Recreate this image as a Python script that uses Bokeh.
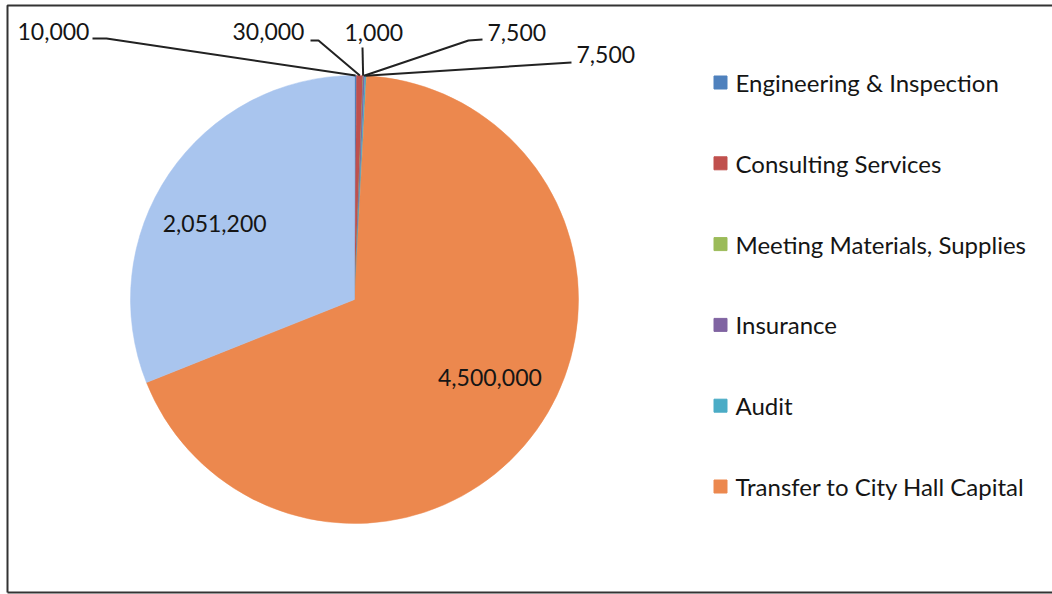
import math
from bokeh.plotting import figure
from bokeh.embed import file_html
from bokeh.resources import INLINE
from bokeh.core.properties import value
from bokeh.models import ColumnDataSource

# ---------------- data ----------------
categories = ["Engineering & Inspection", "Consulting Services", "Meeting Materials, Supplies",
              "Insurance", "Audit", "Transfer to City Hall Capital", "Other"]
values = [10000, 30000, 1000, 7500, 7500, 4500000, 2051200]
colors = ["#4F81BD", "#C0504D", "#9BBB59", "#8064A2", "#4BACC6", "#EC884E", "#A9C5EE"]
legend_count = 6  # only the first six categories appear in the legend

# ---------------- layout ----------------
W, H = 1052, 594
FONT = "Lato"
def Y(ypx):
    return H - ypx

cx, cy_px, R = 354, 299, 224
cy = Y(cy_px)

p = figure(width=W, height=H, x_range=(0, W), y_range=(0, H), min_border=0,
           toolbar_location=None, output_backend="svg")
p.axis.visible = False
p.xgrid.visible = False
p.ygrid.visible = False
p.outline_line_color = None
p.background_fill_color = "white"

# chart frame
p.line(x=[7, 7, W + 5], y=[Y(592), Y(5), Y(5)], line_color="#333333", line_width=2)
p.line(x=[7, W + 5], y=[Y(592), Y(592)], line_color="#333333", line_width=2)

# pie slices (clockwise from 12 o'clock)
total = float(sum(values))
starts, ends, mids = [], [], []
acc = 0.0
for v in values:
    a0 = math.pi / 2 - 2 * math.pi * acc / total
    acc += v
    a1 = math.pi / 2 - 2 * math.pi * acc / total
    starts.append(a0)
    ends.append(a1)
    mids.append((a0 + a1) / 2)

src = ColumnDataSource(dict(start=starts, end=ends, color=colors, cat=categories, val=values))
p.wedge(x=cx, y=cy, radius=R, start_angle="start", end_angle="end", direction="clock",
        fill_color="color", line_color="color", line_width=0.5, source=src)

labels = [f"{v:,}" for v in values]
LBL_SIZE = "23px"
TXT = "#151515"

# small-slice labels with leader lines (label anchor positions in px)
small_layout = {
    0: dict(tx=17, ty=31, path=[(92, 38), (106, 38)]),
    1: dict(tx=232, ty=31, path=[(310, 40), (318, 40)]),
    2: dict(tx=344, ty=32, path=[(362, 47)]),
    3: dict(tx=487, ty=32, path=[(482, 39), (468, 40)]),
    4: dict(tx=576, ty=54, path=[(571, 62)]),
}
for i, lay in small_layout.items():
    ex = cx + R * math.cos(mids[i])
    ey = cy + R * math.sin(mids[i])
    xs = [pt[0] for pt in lay["path"]] + [ex]
    ys = [Y(pt[1]) for pt in lay["path"]] + [ey]
    p.line(x=xs, y=ys, line_color="#222222", line_width=2)
    p.text(x=[lay["tx"]], y=[Y(lay["ty"])], text=[labels[i]], text_align="left",
           text_baseline="middle", text_font=value(FONT), text_font_size=LBL_SIZE,
           text_color=TXT)

# large-slice labels inside the pie (radius fraction, pixel nudge dx, dy-down)
inner = {5: (0.70, 8, -13), 6: (0.70, -10, 12)}
for i, (frac, ddx, ddy) in inner.items():
    lx = cx + frac * R * math.cos(mids[i]) + ddx
    ly = cy + frac * R * math.sin(mids[i]) - ddy
    p.text(x=[lx], y=[ly], text=[labels[i]], text_align="center", text_baseline="middle",
           text_font=value(FONT), text_font_size=LBL_SIZE, text_color=TXT)

# legend
leg_x, leg_y0, leg_dy = 720, 82, 80.8
lx_sq = [leg_x] * legend_count
ly_sq = [Y(leg_y0 + k * leg_dy) for k in range(legend_count)]
p.rect(x=lx_sq, y=ly_sq, width=13, height=13, fill_color=colors[:legend_count],
       line_color=colors[:legend_count])
p.text(x=[leg_x + 15] * legend_count, y=ly_sq, text=categories[:legend_count],
       text_align="left", text_baseline="middle", text_font=value(FONT),
       text_font_size="24px", text_color=TXT)

open("out.html", "w").write(file_html(p, INLINE))
